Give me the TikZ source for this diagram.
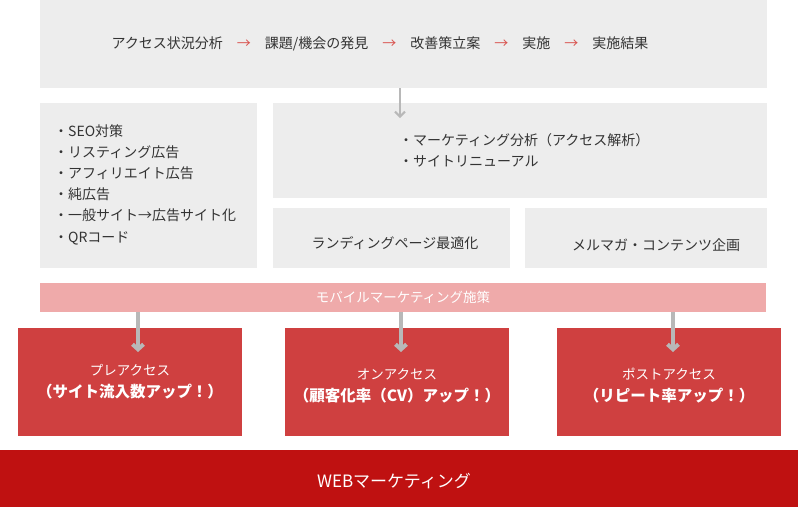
\documentclass[tikz,border=0pt]{standalone}
\usepackage{fontspec}
\setmainfont{Noto Sans CJK JP}
\usetikzlibrary{arrows.meta}
\definecolor{boxgray}{HTML}{EDEDED}
\definecolor{pinkbar}{HTML}{EFAAAA}
\definecolor{redbox}{HTML}{CF4040}
\definecolor{darkred}{HTML}{BF1111}
\definecolor{arrowgray}{HTML}{B8B8B8}
\definecolor{txt}{HTML}{333333}
\definecolor{arrred}{HTML}{D9534F}
\tikzset{
  panel/.style={fill=boxgray, draw=none, anchor=north west, inner sep=0pt},
  redpanel/.style={fill=redbox, draw=none, anchor=north west, inner sep=0pt},
  txtlabel/.style={text=txt, font=\fontsize{14}{21}\selectfont, inner sep=0pt},
  whitelabel/.style={text=white, font=\fontsize{15.5}{22}\selectfont\bfseries, inner sep=0pt, align=center},
  thinarrow/.style={draw=arrowgray, line width=2pt, -{Straight Barb[length=5pt,width=10pt]}},
  thickarrow/.style={draw=arrowgray, line width=4pt, -{Straight Barb[length=5pt,width=11pt]}},
}
\begin{document}
\begin{tikzpicture}[x=1pt,y=-1pt]
\useasboundingbox (0,0) rectangle (798,507);
% boxes
\node[panel, minimum width=727, minimum height=88] (top) at (40,0) {};
\node[panel, minimum width=217, minimum height=165] (left) at (40,103) {};
\node[panel, minimum width=494, minimum height=95] (ana) at (273,103) {};
\node[panel, minimum width=237, minimum height=60] (lp) at (273,208) {};
\node[panel, minimum width=242, minimum height=60] (mail) at (525,208) {};
\node[fill=pinkbar, anchor=north west, inner sep=0pt, minimum width=726, minimum height=29] (mob) at (40,283) {};
\node[redpanel, minimum width=224, minimum height=108] (pre) at (18,328) {};
\node[redpanel, minimum width=224, minimum height=108] (on) at (285,328) {};
\node[redpanel, minimum width=224, minimum height=108] (post) at (557,328) {};
\node[fill=darkred, anchor=north west, inner sep=0pt, minimum width=798, minimum height=57] (web) at (0,450) {};

% texts
\node[txtlabel] (flow) at (380,44) {アクセス状況分析\hspace{14pt}{\color{arrred}→}\hspace{14pt}課題/機会の発見\hspace{14pt}{\color{arrred}→}\hspace{14pt}改善策立案\hspace{14pt}{\color{arrred}→}\hspace{14pt}実施\hspace{14pt}{\color{arrred}→}\hspace{14pt}実施結果};
\node[txtlabel, anchor=north west, align=left, font=\fontsize{14}{21.2}\selectfont] (list) at (54,124) {・SEO対策\\・リスティング広告\\・アフィリエイト広告\\・純広告\\・一般サイト→広告サイト化\\・QRコード};
\node[txtlabel, anchor=north west, align=left, font=\fontsize{14}{21.2}\selectfont] (anatext) at (399,133) {・マーケティング分析（アクセス解析）\\・サイトリニューアル};
\node[txtlabel] (lptext) at (395,243) {ランディングページ最適化};
\node[txtlabel] (mailtext) at (656,245) {メルマガ・コンテンツ企画};
\node[text=white, font=\fontsize{13.5}{15}\selectfont, inner sep=0pt] (mobtext) at (403,297) {モバイルマーケティング施策};
\node[whitelabel] (pretext) at (130,382) {{\fontsize{13.5}{22}\selectfont\mdseries プレアクセス}\\（サイト流入数アップ！）};
\node[whitelabel] (ontext) at (397,386) {{\fontsize{13.5}{22}\selectfont\mdseries オンアクセス}\\（顧客化率（CV）アップ！）};
\node[whitelabel] (posttext) at (669,386) {{\fontsize{13.5}{22}\selectfont\mdseries ポストアクセス}\\（リピート率アップ！）};
\node[text=white, font=\fontsize{17}{19}\selectfont, inner sep=0pt] (webtext) at (394,481) {WEBマーケティング};

% connectors
\coordinate (a0) at (top.south -| 400,0);
\coordinate (a1) at (400,118);
\draw[thinarrow] (a0) -- (a1);
\coordinate (p1) at (138,352);
\coordinate (p2) at (401,352);
\coordinate (p3) at (673,352);
\draw[thickarrow] (mob.south -| p1) -- (p1);
\draw[thickarrow] (mob.south -| p2) -- (p2);
\draw[thickarrow] (mob.south -| p3) -- (p3);
\end{tikzpicture}
\end{document}
